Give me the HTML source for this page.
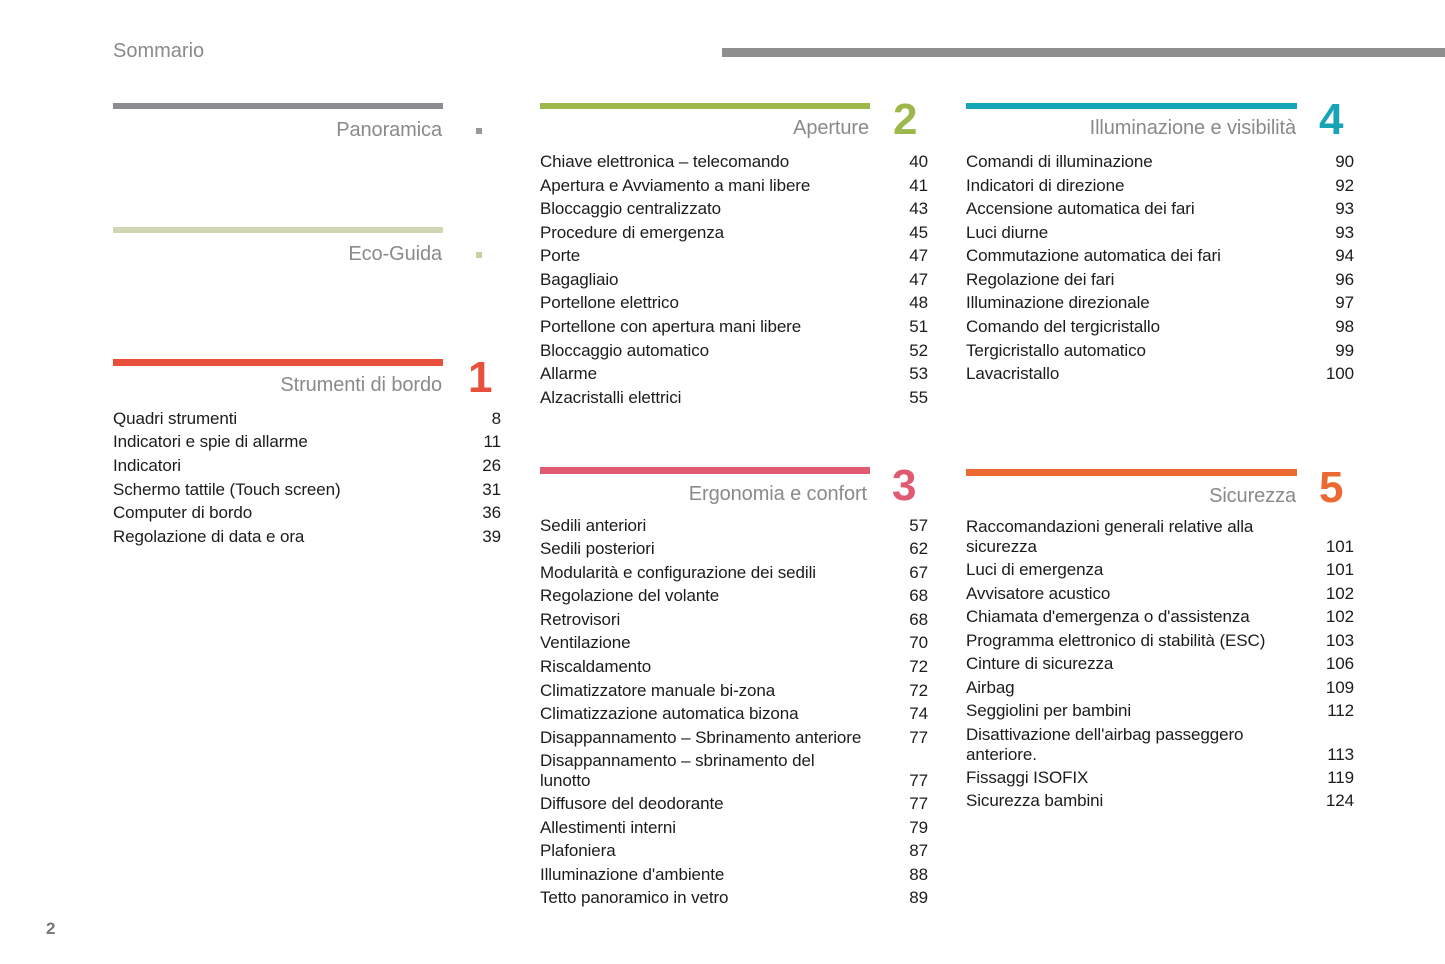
<!DOCTYPE html>
<html><head><meta charset="utf-8"><style>
body{margin:0;width:1445px;height:964px;background:#fff;position:relative;overflow:hidden;font-family:"Liberation Sans",sans-serif;}
.a{position:absolute}
.r{position:absolute;font-size:17px;letter-spacing:-0.1px;color:#1c1c1c;line-height:22px;height:22px;white-space:nowrap}
.r span{position:absolute;right:0;top:0}
.r2{line-height:20px;height:40px}
.r2 span{top:20px}
.c1{left:113px;width:388px}
.c2{left:540px;width:388px}
.c3{left:966px;width:388px}
.h{position:absolute;font-size:20px;color:#8a8a8a;text-align:right;letter-spacing:-0.1px;white-space:nowrap}
.n{position:absolute;font-size:44px;font-weight:bold;line-height:45px}
</style></head><body>
<div class="a" style="left:113px;top:40px;font-size:20px;color:#8a8a8a">Sommario</div>
<div class="a" style="left:722px;top:48px;width:723px;height:9px;background:#8e8e8e"></div>

<div class="a" style="left:113px;top:103px;width:330px;height:6px;background:#8e8c90"></div>
<div class="h" style="right:1003px;top:119px">Panoramica</div>
<div class="a" style="left:476px;top:128px;width:6px;height:6px;background:#999"></div>

<div class="a" style="left:113px;top:227px;width:330px;height:6px;background:#d2d5b3"></div>
<div class="h" style="right:1003px;top:243px">Eco-Guida</div>
<div class="a" style="left:476px;top:252px;width:6px;height:6px;background:#c8d0a6"></div>

<div class="a" style="left:113px;top:359px;width:330px;height:7px;background:#e8503c"></div>
<div class="h" style="right:1003px;top:374px">Strumenti di bordo</div>
<div class="n" style="left:468px;top:355px;color:#e8503c">1</div>

<div class="a" style="left:540px;top:103px;width:330px;height:6px;background:#9cb84a"></div>
<div class="h" style="right:576px;top:117px">Aperture</div>
<div class="n" style="left:893px;top:97px;color:#9cb84a">2</div>

<div class="a" style="left:540px;top:467px;width:330px;height:7px;background:#e05a72"></div>
<div class="h" style="right:578px;top:483px">Ergonomia e confort</div>
<div class="n" style="left:892px;top:463px;color:#e05a72">3</div>

<div class="a" style="left:966px;top:103px;width:331px;height:6px;background:#17a4b6"></div>
<div class="h" style="right:149px;top:117px">Illuminazione e visibilità</div>
<div class="n" style="left:1319px;top:97px;color:#17a4b6">4</div>

<div class="a" style="left:966px;top:469px;width:331px;height:7px;background:#ec6a32"></div>
<div class="h" style="right:149px;top:485px">Sicurezza</div>
<div class="n" style="left:1319px;top:465px;color:#ec6a32">5</div>

<div class="a" style="left:46px;top:919px;font-size:17px;font-weight:bold;color:#777">2</div>

<div class="r c1" style="top:408px">Quadri strumenti<span>8</span></div>
<div class="r c1" style="top:431px">Indicatori e spie di allarme<span>11</span></div>
<div class="r c1" style="top:455px">Indicatori<span>26</span></div>
<div class="r c1" style="top:479px">Schermo tattile (Touch screen)<span>31</span></div>
<div class="r c1" style="top:502px">Computer di bordo<span>36</span></div>
<div class="r c1" style="top:526px">Regolazione di data e ora<span>39</span></div>

<div class="r c2" style="top:151px">Chiave elettronica – telecomando<span>40</span></div>
<div class="r c2" style="top:175px">Apertura e Avviamento a mani libere<span>41</span></div>
<div class="r c2" style="top:198px">Bloccaggio centralizzato<span>43</span></div>
<div class="r c2" style="top:222px">Procedure di emergenza<span>45</span></div>
<div class="r c2" style="top:245px">Porte<span>47</span></div>
<div class="r c2" style="top:269px">Bagagliaio<span>47</span></div>
<div class="r c2" style="top:292px">Portellone elettrico<span>48</span></div>
<div class="r c2" style="top:316px">Portellone con apertura mani libere<span>51</span></div>
<div class="r c2" style="top:340px">Bloccaggio automatico<span>52</span></div>
<div class="r c2" style="top:363px">Allarme<span>53</span></div>
<div class="r c2" style="top:387px">Alzacristalli elettrici<span>55</span></div>

<div class="r c2" style="top:515px">Sedili anteriori<span>57</span></div>
<div class="r c2" style="top:538px">Sedili posteriori<span>62</span></div>
<div class="r c2" style="top:562px">Modularità e configurazione dei sedili<span>67</span></div>
<div class="r c2" style="top:585px">Regolazione del volante<span>68</span></div>
<div class="r c2" style="top:609px">Retrovisori<span>68</span></div>
<div class="r c2" style="top:632px">Ventilazione<span>70</span></div>
<div class="r c2" style="top:656px">Riscaldamento<span>72</span></div>
<div class="r c2" style="top:680px">Climatizzatore manuale bi-zona<span>72</span></div>
<div class="r c2" style="top:703px">Climatizzazione automatica bizona<span>74</span></div>
<div class="r c2" style="top:727px">Disappannamento – Sbrinamento anteriore<span>77</span></div>
<div class="r r2 c2" style="top:751px">Disappannamento – sbrinamento del<br>lunotto<span>77</span></div>
<div class="r c2" style="top:793px">Diffusore del deodorante<span>77</span></div>
<div class="r c2" style="top:817px">Allestimenti interni<span>79</span></div>
<div class="r c2" style="top:840px">Plafoniera<span>87</span></div>
<div class="r c2" style="top:864px">Illuminazione d'ambiente<span>88</span></div>
<div class="r c2" style="top:887px">Tetto panoramico in vetro<span>89</span></div>

<div class="r c3" style="top:151px">Comandi di illuminazione<span>90</span></div>
<div class="r c3" style="top:175px">Indicatori di direzione<span>92</span></div>
<div class="r c3" style="top:198px">Accensione automatica dei fari<span>93</span></div>
<div class="r c3" style="top:222px">Luci diurne<span>93</span></div>
<div class="r c3" style="top:245px">Commutazione automatica dei fari<span>94</span></div>
<div class="r c3" style="top:269px">Regolazione dei fari<span>96</span></div>
<div class="r c3" style="top:292px">Illuminazione direzionale<span>97</span></div>
<div class="r c3" style="top:316px">Comando del tergicristallo<span>98</span></div>
<div class="r c3" style="top:340px">Tergicristallo automatico<span>99</span></div>
<div class="r c3" style="top:363px">Lavacristallo<span>100</span></div>

<div class="r r2 c3" style="top:517px">Raccomandazioni generali relative alla<br>sicurezza<span>101</span></div>
<div class="r c3" style="top:559px">Luci di emergenza<span>101</span></div>
<div class="r c3" style="top:583px">Avvisatore acustico<span>102</span></div>
<div class="r c3" style="top:606px">Chiamata d'emergenza o d'assistenza<span>102</span></div>
<div class="r c3" style="top:630px">Programma elettronico di stabilità (ESC)<span>103</span></div>
<div class="r c3" style="top:653px">Cinture di sicurezza<span>106</span></div>
<div class="r c3" style="top:677px">Airbag<span>109</span></div>
<div class="r c3" style="top:700px">Seggiolini per bambini<span>112</span></div>
<div class="r r2 c3" style="top:725px">Disattivazione dell'airbag passeggero<br>anteriore.<span>113</span></div>
<div class="r c3" style="top:767px">Fissaggi ISOFIX<span>119</span></div>
<div class="r c3" style="top:790px">Sicurezza bambini<span>124</span></div>
</body></html>
